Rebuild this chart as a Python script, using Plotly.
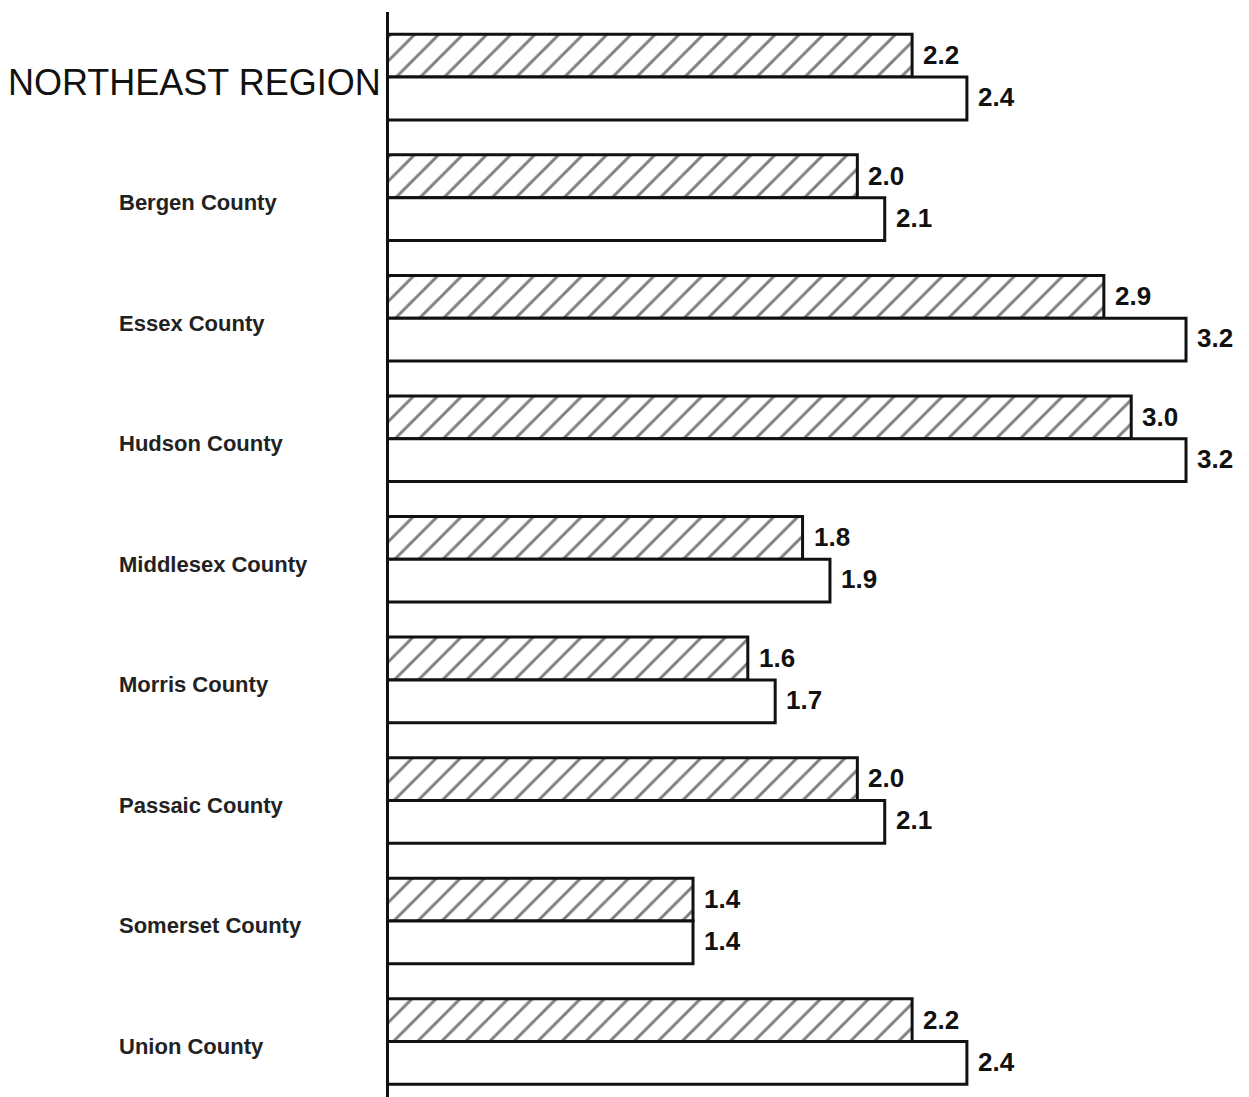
import plotly.graph_objects as go

categories = ["NORTHEAST REGION", "Bergen County", "Essex County", "Hudson County",
              "Middlesex County", "Morris County", "Passaic County",
              "Somerset County", "Union County"]
hatched_values = [2.2, 2.0, 2.9, 3.0, 1.8, 1.6, 2.0, 1.4, 2.2]
white_values = [2.4, 2.1, 3.2, 3.2, 1.9, 1.7, 2.1, 1.4, 2.4]

# page body has an 8px margin; compensate so the picture lines up
BODY = 8
W, H = 1249 - BODY, 1097 - BODY
L, T = 389 - BODY, 4
plot_w = W - L

fig = go.Figure()
fig.add_trace(go.Bar(
    y=categories, x=hatched_values, orientation="h",
    marker=dict(color="white", line=dict(color="#111", width=3),
                pattern=dict(shape="/", fgcolor="black", bgcolor="white",
                             size=17, solidity=0.17)),
    hoverinfo="x+y", showlegend=False,
))
fig.add_trace(go.Bar(
    y=categories, x=white_values, orientation="h",
    marker=dict(color="white", line=dict(color="#111", width=3)),
    hoverinfo="x+y", showlegend=False,
))

num_font = dict(family="Liberation Sans, Arial", size=26, color="#111")
annotations = []
for cat, hv, wv in zip(categories, hatched_values, white_values):
    annotations.append(dict(x=hv, y=cat, xref="x", yref="y", text=f"<b>{hv:.1f}</b>",
                            showarrow=False, xanchor="left", yanchor="middle",
                            xshift=9, yshift=22, font=num_font))
    annotations.append(dict(x=wv, y=cat, xref="x", yref="y", text=f"<b>{wv:.1f}</b>",
                            showarrow=False, xanchor="left", yanchor="middle",
                            xshift=9, yshift=-20, font=num_font))
    if cat == "NORTHEAST REGION":
        annotations.append(dict(x=(383 - 389) / plot_w, y=cat, xref="paper", yref="y",
                                text=cat, showarrow=False, xanchor="right", yanchor="middle",
                                yshift=-5,
                                font=dict(family="Liberation Sans, Arial", size=36, color="#111")))
    else:
        annotations.append(dict(x=(117 - 389) / plot_w, y=cat, xref="paper", yref="y",
                                text=f"<b>{cat}</b>", showarrow=False, xanchor="left",
                                yanchor="middle", yshift=-5,
                                font=dict(family="Liberation Sans, Arial", size=22, color="#222")))

fig.update_layout(
    width=W, height=H,
    margin=dict(l=L, r=0, t=T, b=0, pad=0),
    paper_bgcolor="white", plot_bgcolor="white",
    barmode="group", bargap=0.29, bargroupgap=0,
    annotations=annotations,
    xaxis=dict(range=[0.29, 3.43], visible=False, showgrid=False, zeroline=False),
    yaxis=dict(range=[8.46, -0.54], showticklabels=False, showgrid=False,
               zeroline=False, showline=True, linecolor="#111", linewidth=3,
               ticks=""),
)

fig.write_html("out.html")
